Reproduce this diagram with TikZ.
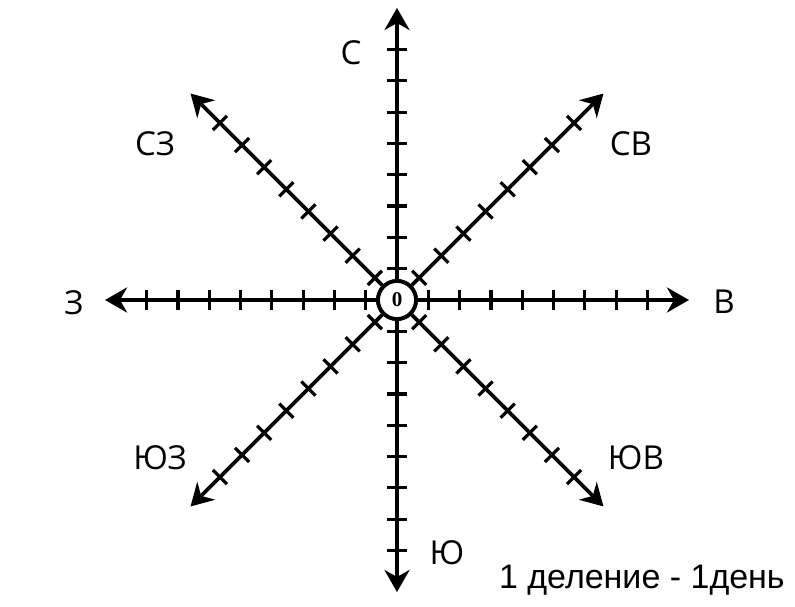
\documentclass[tikz,border=0pt]{standalone}
\usepackage{fontspec}
\setmainfont{Open Sans}
\newfontfamily\arialf{Liberation Sans}
\newfontfamily\timesf{Liberation Serif}
\usetikzlibrary{arrows.meta,calc}
\begin{document}
\begin{tikzpicture}[x=1pt,y=1pt,
  axis/.style={line width=3.8pt, -{Stealth[length=22pt,width=25pt,inset=7pt]}},
  tickmark/.style={line width=3.2pt},
  dirlabel/.style={font=\fontsize{33}{33}\selectfont, inner sep=0pt},
  zero/.style={circle, draw, line width=3.8pt, fill=white, minimum size=38pt, inner sep=0pt,
    font=\timesf\bfseries\fontsize{21}{21}\selectfont},
  legend/.style={font=\arialf\fontsize{34}{34}\selectfont, inner sep=0pt, anchor=base east}
]
\useasboundingbox (0,0) rectangle (795,606);
\fill[white] (0,0) rectangle (795,606);
\coordinate (c) at (397,306);
\node[zero] (o) at (c) {0};
\foreach \a/\n in {0/e,45/ne,90/n,135/nw,180/w,225/sw,270/s,315/se} {
  \coordinate (t\n) at ($(c)+(\a:292)$);
  \draw[axis] (o) -- (t\n);
  \foreach \k in {1,...,8} {
    \draw[tickmark] ($(c)+(\a:{\k*31.3})+(\a+90:10)$) -- ($(c)+(\a:{\k*31.3})+(\a-90:10)$);
  }
}
\node[zero] (o2) at (c) {0};
\node[dirlabel] (lN) at (351,553) {С};
\node[dirlabel] (lNW) at (155,462) {СЗ};
\node[dirlabel] (lW) at (74,303) {З};
\node[dirlabel] (lSW) at (160,148) {ЮЗ};
\node[dirlabel] (lS) at (447,53) {Ю};
\node[dirlabel] (lSE) at (636,148) {ЮВ};
\node[dirlabel] (lE) at (724,304) {В};
\node[dirlabel] (lNE) at (631,462) {СВ};
\node[legend] (leg) at (785,18) {1 деление - 1день};
\end{tikzpicture}
\end{document}
